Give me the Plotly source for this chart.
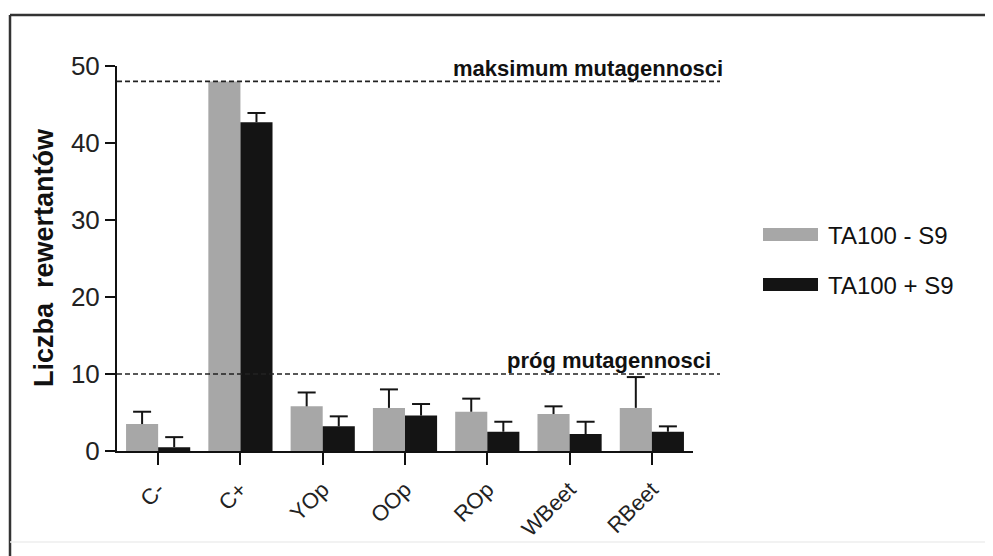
import plotly.graph_objects as go

categories = ["C-", "C+", "YOp", "OOp", "ROp", "WBeet", "RBeet"]
minus_s9 = [3.5, 48.0, 5.8, 5.6, 5.1, 4.8, 5.6]
minus_s9_err = [1.6, 0.0, 1.8, 2.4, 1.7, 1.0, 4.0]
plus_s9 = [0.5, 42.7, 3.2, 4.6, 2.5, 2.2, 2.5]
plus_s9_err = [1.3, 1.2, 1.3, 1.5, 1.3, 1.6, 0.7]
series_names = ["TA100 - S9", "TA100 + S9"]
max_level = 48
threshold = 10
max_label = "maksimum mutagennosci"
thr_label = "próg mutagennosci"
y_title = "Liczba  rewertantów"
y_ticks = [0, 10, 20, 30, 40, 50]

GRAY = "#a7a7a7"
BLACK = "#141414"
FONT = "Liberation Sans, Arial, sans-serif"

OFF = 8  # default page body margin
W, H = 993 - OFF, 556 - OFF
L, T = 117 - OFF, 66 - OFF
R = W - (693 - OFF)
B = H - (451 - OFF)
pw, ph = W - L - R, H - T - B

BARGAP = 0.22
n = len(categories)
xpos = list(range(n))
bar_w = (1 - BARGAP) / 2
offsets = [-bar_w / 2, bar_w / 2]
cap_half = 9 / (pw / n)


def px(x):
    return (x - OFF - L) / pw


def py(y):
    return (H - B - (y - OFF)) / ph


def err_path(vals, errs, off):
    xs, ys = [], []
    for x, v, e in zip(xpos, vals, errs):
        if e <= 0:
            continue
        xc = x + off
        xs += [xc, xc, None, xc - cap_half, xc + cap_half, None]
        ys += [v, v + e, None, v + e, v + e, None]
    return xs, ys


fig = go.Figure()
for vals, errs, off in ((minus_s9, minus_s9_err, offsets[0]), (plus_s9, plus_s9_err, offsets[1])):
    ex, ey = err_path(vals, errs, off)
    fig.add_trace(go.Scatter(x=ex, y=ey, mode="lines", line=dict(color=BLACK, width=2),
                             hoverinfo="skip", showlegend=False))
for vals, color, name in ((minus_s9, GRAY, series_names[0]), (plus_s9, BLACK, series_names[1])):
    fig.add_trace(go.Bar(x=xpos, y=vals, name=name,
                         marker=dict(color=color, line=dict(width=0)), showlegend=False))

shapes = []
for lvl in (max_level, threshold):
    shapes.append(dict(type="line", xref="paper", yref="y", x0=0, x1=px(720),
                       y0=lvl, y1=lvl, line=dict(color="#222", width=1.6, dash="5px,3px"),
                       layer="above"))
# frame
shapes.append(dict(type="line", xref="paper", yref="paper", x0=px(10), x1=px(993),
                   y0=py(15), y1=py(15), line=dict(color="#333", width=2.5)))
shapes.append(dict(type="line", xref="paper", yref="paper", x0=px(10), x1=px(10),
                   y0=py(15), y1=py(556), line=dict(color="#333", width=2.5)))
shapes.append(dict(type="line", xref="paper", yref="paper", x0=px(986), x1=px(986),
                   y0=py(15), y1=py(542), line=dict(color="#e4e4e4", width=1.5)))
shapes.append(dict(type="line", xref="paper", yref="paper", x0=px(10), x1=px(986),
                   y0=py(542), y1=py(542), line=dict(color="#eeeeee", width=1.5)))
# legend swatches
shapes.append(dict(type="rect", xref="paper", yref="paper", x0=px(763), x1=px(818),
                   y0=py(241), y1=py(228), fillcolor=GRAY, line=dict(width=0)))
shapes.append(dict(type="rect", xref="paper", yref="paper", x0=px(763), x1=px(818),
                   y0=py(291), y1=py(278), fillcolor=BLACK, line=dict(width=0)))

annotations = [
    dict(text="<b>" + max_label + "</b>", xref="paper", yref="paper", x=px(725), y=py(83),
         xanchor="right", yanchor="bottom", showarrow=False,
         font=dict(family=FONT, size=22, color="#111")),
    dict(text="<b>" + thr_label + "</b>", xref="paper", yref="paper", x=px(713), y=py(375),
         xanchor="right", yanchor="bottom", showarrow=False,
         font=dict(family=FONT, size=22, color="#111")),
    dict(text=series_names[0], xref="paper", yref="paper", x=px(826), y=py(235),
         xanchor="left", yanchor="middle", showarrow=False,
         font=dict(family=FONT, size=24, color="#111")),
    dict(text=series_names[1], xref="paper", yref="paper", x=px(826), y=py(285),
         xanchor="left", yanchor="middle", showarrow=False,
         font=dict(family=FONT, size=24, color="#111")),
    dict(text="<b>" + y_title + "</b>", xref="paper", yref="paper", x=px(44), y=py(258),
         xanchor="center", yanchor="middle", showarrow=False, textangle=-90,
         font=dict(family=FONT, size=27, color="#111")),
]

fig.update_layout(
    width=W, height=H,
    margin=dict(l=L, r=R, t=T, b=B, pad=0),
    paper_bgcolor="white", plot_bgcolor="white",
    barmode="group", bargap=BARGAP, bargroupgap=0,
    font=dict(family=FONT, color="#111"),
    shapes=shapes, annotations=annotations,
    showlegend=False,
)
fig.update_xaxes(
    range=[-0.5, n - 0.5], tickvals=xpos, ticktext=categories,
    showline=True, linecolor="#111", linewidth=2,
    ticks="outside", ticklen=12, tickwidth=2, tickcolor="#111",
    tickangle=-45, tickfont=dict(family=FONT, size=22, color="#222"),
    ticklabelstandoff=3,
    showgrid=False, zeroline=False, automargin=False,
)
fig.update_yaxes(
    range=[0, 50], tickvals=y_ticks,
    showline=True, linecolor="#111", linewidth=2,
    ticks="outside", ticklen=10, tickwidth=2, tickcolor="#111",
    tickfont=dict(family=FONT, size=26, color="#222"),
    showgrid=False, zeroline=False, automargin=False,
)

fig.write_html("out.html")
